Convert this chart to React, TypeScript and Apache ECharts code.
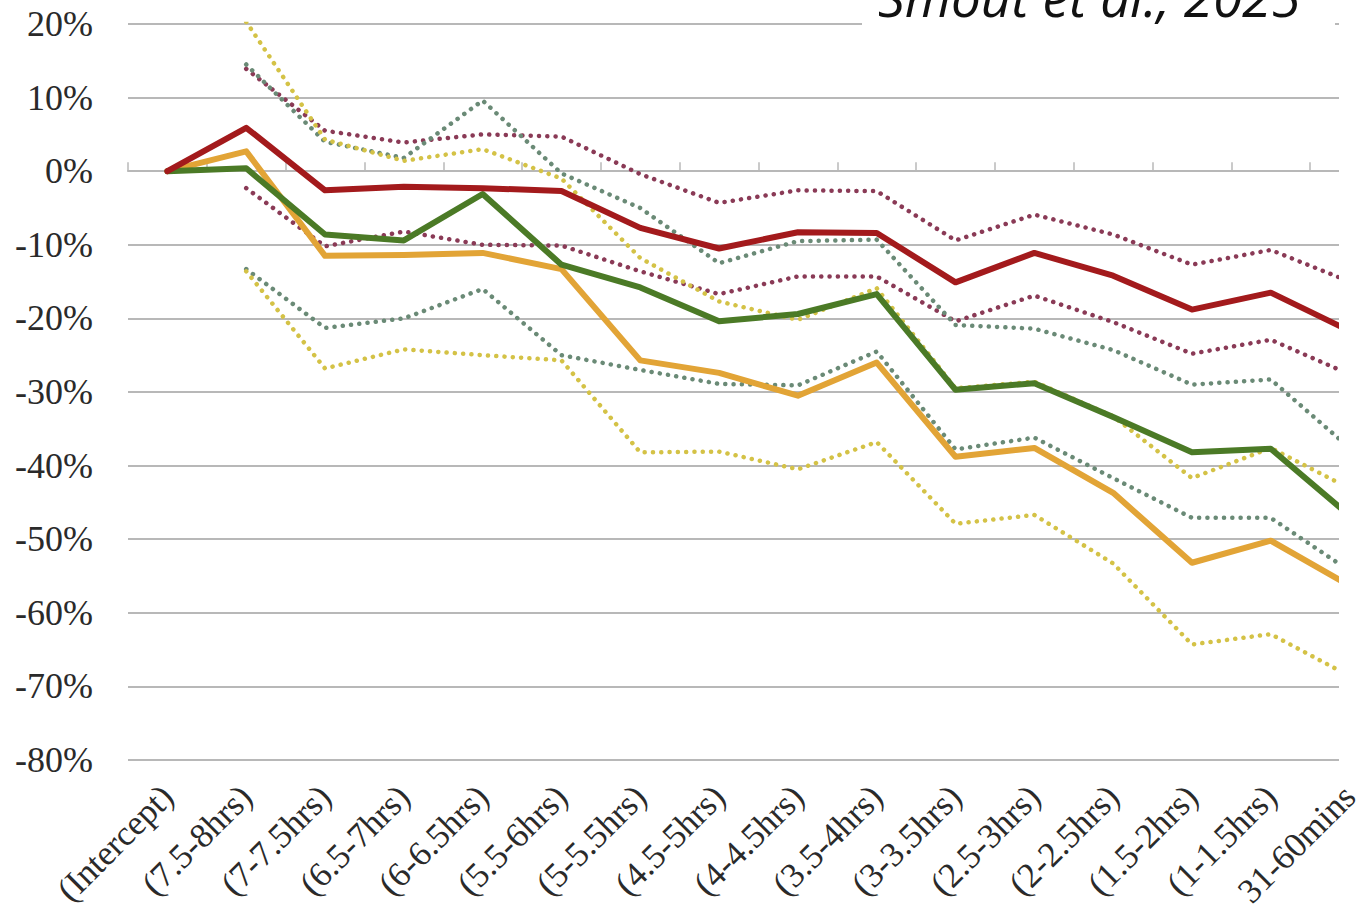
import React, { useEffect, useRef } from "react";
import * as echarts from "echarts";

const categories = [
  "(Intercept)", "(7.5-8hrs)", "(7-7.5hrs)", "(6.5-7hrs)", "(6-6.5hrs)", "(5.5-6hrs)",
  "(5-5.5hrs)", "(4.5-5hrs)", "(4-4.5hrs)", "(3.5-4hrs)", "(3-3.5hrs)", "(2.5-3hrs)",
  "(2-2.5hrs)", "(1.5-2hrs)", "(1-1.5hrs)", "31-60mins",
];

const redMain = [0, 5.9, -2.6, -2.1, -2.3, -2.7, -7.7, -10.5, -8.3, -8.4, -15.1, -11.1, -14.2, -18.8, -16.5, -21.7];
const greenMain = [0, 0.4, -8.6, -9.4, -3.1, -12.7, -15.8, -20.4, -19.4, -16.7, -29.7, -28.8, -33.4, -38.2, -37.7, -46.8];
const orangeMain = [0, 2.7, -11.5, -11.4, -11.1, -13.3, -25.7, -27.4, -30.5, -26.0, -38.8, -37.6, -43.7, -53.2, -50.2, -56.3];

const redUpper = [null, 13.9, 5.5, 3.9, 5.0, 4.7, -0.4, -4.3, -2.6, -2.7, -9.4, -5.9, -8.6, -12.7, -10.7, -15.0];
const redLower = [null, -2.3, -10.2, -8.2, -10.0, -10.1, -13.6, -16.7, -14.3, -14.3, -20.4, -16.9, -20.5, -24.8, -22.9, -27.6];
const greenUpper = [null, 14.5, 4.0, 1.8, 9.6, -0.3, -5.0, -12.5, -9.5, -9.3, -20.9, -21.4, -24.3, -29.0, -28.3, -37.6];
const greenLower = [null, -13.3, -21.3, -20.0, -16.0, -25.0, -27.0, -28.9, -29.1, -24.5, -37.8, -36.2, -41.7, -47.1, -47.1, -54.3];
const yellowUpper = [null, 20.3, 4.3, 1.4, 3.0, -1.0, -11.8, -17.7, -20.2, -15.9, -29.5, -28.6, -33.3, -41.7, -37.6, -43.1];
const yellowLower = [null, -13.6, -26.8, -24.2, -25.0, -25.7, -38.2, -38.1, -40.5, -36.8, -47.9, -46.7, -53.3, -64.3, -62.9, -68.6];

const GRID_COLOR = "#b8b8b8";
const LABEL_FONT = '"Liberation Serif", "Times New Roman", serif';

function solid(name: string, data: (number | null)[], color: string, z: number) {
  return {
    name, type: "line", data, symbol: "none", z,
    lineStyle: { width: 6, color, join: "round", cap: "round" },
  };
}

function dotted(name: string, data: (number | null)[], color: string) {
  return {
    name, type: "line", data, symbol: "none", z: 2,
    lineStyle: { width: 4.5, color, type: [0.1, 8.2], cap: "round" },
  };
}

export default function App() {
  const ref = useRef<HTMLDivElement>(null);

  useEffect(() => {
    const chart = echarts.init(ref.current!, undefined, { renderer: "svg" });
    chart.setOption({
      animation: false,
      backgroundColor: "#ffffff",
      grid: { left: 128, right: 31, top: 24, bottom: 158, containLabel: false },
      xAxis: [
        {
          type: "category",
          data: categories,
          boundaryGap: true,
          position: "bottom",
          axisLine: { show: true, onZero: true, lineStyle: { color: GRID_COLOR, width: 2 } },
          axisTick: { show: true, inside: true, length: 9, lineStyle: { color: GRID_COLOR, width: 1.5 } },
          axisLabel: { show: false },
          splitLine: { show: false },
        },
        {
          type: "category",
          data: categories,
          boundaryGap: true,
          position: "bottom",
          axisLine: { show: false, onZero: false },
          axisTick: { show: false },
          axisLabel: {
            show: true, interval: 0, rotate: 45, margin: 31,
            fontFamily: LABEL_FONT, fontSize: 35, color: "#2a2a2a",
          },
          splitLine: { show: false },
        },
      ],
      yAxis: {
        type: "value",
        min: -80, max: 20, interval: 10,
        axisLine: { show: false },
        axisTick: { show: false },
        axisLabel: {
          formatter: "{value}%", margin: 35,
          fontFamily: LABEL_FONT, fontSize: 36, color: "#2a2a2a",
        },
        splitLine: { show: true, lineStyle: { color: GRID_COLOR, width: 2 } },
      },
      series: [
        dotted("Red upper", redUpper, "#8a3a56"),
        dotted("Red lower", redLower, "#8a3a56"),
        dotted("Green upper", greenUpper, "#6a8a76"),
        dotted("Green lower", greenLower, "#6a8a76"),
        dotted("Yellow upper", yellowUpper, "#d4c246"),
        dotted("Yellow lower", yellowLower, "#d4c246"),
        solid("Orange", orangeMain, "#e2a436", 3),
        solid("Green", greenMain, "#4b7a26", 4),
        solid("Red", redMain, "#a31a1c", 5),
      ],
      graphic: [
        { type: "rect", z: 50, shape: { x: 862, y: 0, width: 473, height: 30 }, style: { fill: "#ffffff" } },
        {
          type: "text", z: 51, x: 878, y: 23,
          style: {
            text: "Smout et al., 2025",
            font: 'italic 53px "Open Sans", sans-serif',
            fill: "#111111",
            verticalAlign: "bottom",
          },
        },
        { type: "rect", z: 100, shape: { x: 1339, y: 0, width: 120, height: 777 }, style: { fill: "#ffffff" } },
      ],
    });
    return () => chart.dispose();
  }, []);

  return (
    <div style={{ position: "absolute", left: 0, top: 0, width: 1371, height: 918, overflow: "hidden", background: "#fff" }}>
      <div ref={ref} style={{ width: 1420, height: 918 }} />
    </div>
  );
}
